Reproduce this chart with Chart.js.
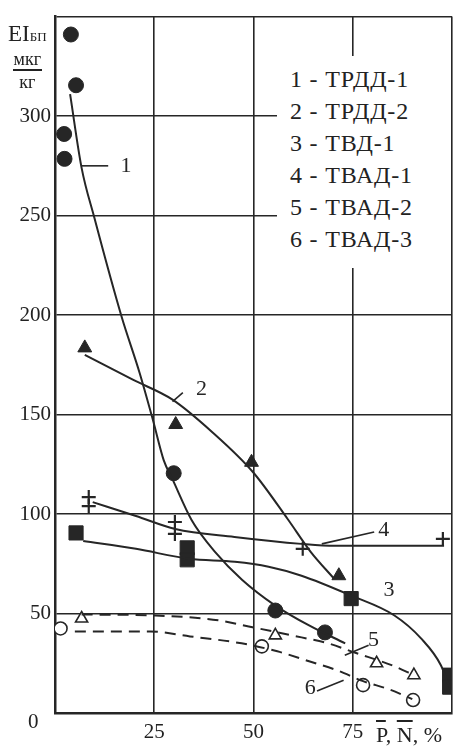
<!DOCTYPE html>
<html>
<head>
<meta charset="utf-8">
<script src="https://cdn.jsdelivr.net/npm/chart.js@4"></script>
<style>
  body { margin: 0; background: #fff; }
  #wrap { position: relative; width: 463px; height: 754px; font-family: 'Liberation Serif', serif; color: #222; }
  #legend { position: absolute; left: 277px; top: 56px; width: 174px; height: 212px; background: #fff;
            font-size: 24px; line-height: 32px; letter-spacing: 0.8px; padding: 7px 0 0 13px; box-sizing: border-box; white-space: nowrap; }
  #ytitle { position: absolute; left: 8px; top: 22px; text-align: center; font-size: 18px; line-height: 23px; }
  #ytitle .ei { font-size: 23px; }
  #ytitle .sub { font-size: 13px; }
  #ytitle .num { border-bottom: 2.5px solid #222; line-height: 19px; display: inline-block; padding: 0 1px; }
  #xtitle { position: absolute; left: 376px; top: 722px; font-size: 22px; }
  #xtitle span { text-decoration: overline; }
  #zero { position: absolute; left: 28px; top: 709px; font-size: 21px; }
</style>
</head>
<body>
<div id="wrap">
  <canvas id="chart"></canvas>
  <div id="ytitle"><span class="ei">EI</span><span class="sub">БП</span><br><span class="num">мкг</span><br>кг</div>
  <div id="legend"></div>
  <div id="zero">0</div>
  <div id="xtitle"><span>P</span>, <span>N</span>, %</div>
</div>
<script>
const legendLines = ['1 - ТРДД-1', '2 - ТРДД-2', '3 - ТВД-1', '4 - ТВАД-1', '5 - ТВАД-2', '6 - ТВАД-3']

// measured points
const pts1X = [4, 5.3, 2.3, 2.4, 29.9, 55.5, 68]
const pts1Y = [341, 315.5, 291, 278.5, 120.5, 51.5, 40.5]
const pts2X = [7.5, 30.4, 49.5, 71.5]
const pts2Y = [183.5, 145, 126, 69]
const pts3X = [5.3, 33.3, 33.3, 74.6, 99.4, 99.4]
const pts3Y = [90.5, 83, 77, 57.5, 19, 13]
const pts4X = [8.5, 8.5, 30.2, 30.2, 62.4, 97.7]
const pts4Y = [108.5, 104, 96, 90, 82.5, 87.5]
const pts5X = [6.7, 55.5, 81, 90.4]
const pts5Y = [47.5, 39, 25, 19]
const pts6X = [1.4, 52.1, 77.6, 90.2]
const pts6Y = [42.5, 33.5, 14, 6.5]

// fitted curves
const curve1X = [3.8, 6.7, 9.9, 16.8, 21.3, 24.7, 27.4, 29.7, 34.4, 40.3, 47.1, 55.5, 64, 73.1]
const curve1Y = [311, 274, 249, 199, 171, 147, 127, 117, 97, 81, 67, 54, 44, 35]
const curve2X = [7.5, 19.6, 29.6, 39.7, 49.9, 58.6, 64.4, 70.3]
const curve2Y = [180, 167.5, 157.5, 141, 121, 97.5, 81, 67.5]
const curve3X = [7.1, 20.4, 33.8, 45.3, 53.8, 62.1, 74.6, 85.5, 92.2, 97.2, 99.5]
const curve3Y = [86.5, 82.5, 77.5, 76, 73.5, 69, 59, 49, 37.5, 24, 12]
const curve4X = [9.5, 20.4, 30.3, 45.2, 62.1, 70.4, 98]
const curve4Y = [106, 99, 92.5, 88.5, 85, 84, 84]
const curve5X = [6.7, 25.3, 41.4, 48.8, 62.1, 68.8, 75.3, 85.5, 90.4]
const curve5Y = [49.5, 49, 46.5, 43.5, 38, 35, 30.5, 23.5, 19]
const curve6X = [5, 24, 34, 47, 56, 64, 71, 77.6, 84, 90]
const curve6Y = [41, 41, 38.5, 35, 31, 26, 21.5, 16, 12, 7]

// curve numbers and their leader lines
const tagText = ['1', '2', '3', '4', '5', '6']
const tagX = [17.9, 36.9, 84.1, 82.8, 80.2, 64.3]
const tagY = [275, 162.5, 61.5, 92, 36.5, 12.5]
const leaderX1 = [6.7, 29.6, null, 67.2, 73, 66]
const leaderY1 = [275, 156.5, null, 85, 29, 11]
const leaderX2 = [13.4, 32.2, null, 80.4, 79, 72.7]
const leaderY2 = [275, 161, null, 91, 34, 16.5]

const ink = '#262626'
const zip = (xs, ys) => xs.map((x, i) => ({ x: x, y: ys[i] }))

document.getElementById('legend').innerHTML = legendLines.join('<br>')

function curve(xs, ys, dashed) {
  return {
    data: zip(xs, ys), showLine: true, pointRadius: 0, borderColor: ink, borderWidth: 2,
    cubicInterpolationMode: 'monotone', borderDash: dashed ? [11, 7] : []
  }
}
function marks(xs, ys, style, radius, filled, bw) {
  return {
    data: zip(xs, ys), showLine: false, pointStyle: style, pointRadius: radius, pointHoverRadius: radius,
    pointBackgroundColor: filled ? ink : '#fff', pointBorderColor: ink, pointBorderWidth: bw
  }
}

const tagsPlugin = {
  id: 'tags',
  afterDatasetsDraw(chart) {
    const ctx = chart.ctx, x = chart.scales.x, y = chart.scales.y
    ctx.save()
    ctx.strokeStyle = ink
    ctx.lineWidth = 1.6
    ctx.font = '22px "Liberation Serif"'
    ctx.textAlign = 'center'
    ctx.textBaseline = 'middle'
    ctx.fillStyle = ink
    for (let i = 0; i < tagText.length; i++) {
      if (leaderX1[i] !== null) {
        ctx.beginPath()
        ctx.moveTo(x.getPixelForValue(leaderX1[i]), y.getPixelForValue(leaderY1[i]))
        ctx.lineTo(x.getPixelForValue(leaderX2[i]), y.getPixelForValue(leaderY2[i]))
        ctx.stroke()
      }
      ctx.fillText(tagText[i], x.getPixelForValue(tagX[i]), y.getPixelForValue(tagY[i]))
    }
    ctx.restore()
  }
}

const tickFont = { family: 'Liberation Serif', size: 21 }

new Chart(document.getElementById('chart'), {
  type: 'scatter',
  data: {
    datasets: [
      curve(curve1X, curve1Y, false),
      curve(curve2X, curve2Y, false),
      curve(curve3X, curve3Y, false),
      curve(curve4X, curve4Y, false),
      curve(curve5X, curve5Y, true),
      curve(curve6X, curve6Y, true),
      marks(pts1X, pts1Y, 'circle', 7.5, true, 1),
      marks(pts2X, pts2Y, 'triangle', 8, true, 1),
      marks(pts3X, pts3Y, 'rect', 10, true, 1),
      marks(pts4X, pts4Y, 'cross', 7, true, 2.2),
      marks(pts5X, pts5Y, 'triangle', 7, false, 1.6),
      marks(pts6X, pts6Y, 'circle', 6.5, false, 1.6)
    ]
  },
  options: {
    responsive: true,
    maintainAspectRatio: false,
    animation: false,
    layout: { padding: { left: 0, right: 7, top: 15, bottom: 0 } },
    plugins: { legend: { display: false }, tooltip: { enabled: false } },
    scales: {
      x: {
        min: 0, max: 100,
        ticks: { stepSize: 25, color: '#222', font: tickFont, padding: 7,
                 callback: v => (v === 0 || v === 100) ? '' : v },
        grid: { color: ink, lineWidth: 1.6, drawTicks: false },
        border: { color: ink, width: 2.5 },
        afterFit: s => { s.height = 41 }
      },
      y: {
        min: 0, max: 350,
        ticks: { stepSize: 50, color: '#222', font: tickFont, padding: 4,
                 callback: v => (v === 0 || v === 350) ? '' : v },
        grid: { color: ink, lineWidth: 1.6, drawTicks: false },
        border: { color: ink, width: 2.5 },
        afterFit: s => { s.width = 55 }
      }
    }
  },
  plugins: [tagsPlugin]
})
</script>
</body>
</html>
